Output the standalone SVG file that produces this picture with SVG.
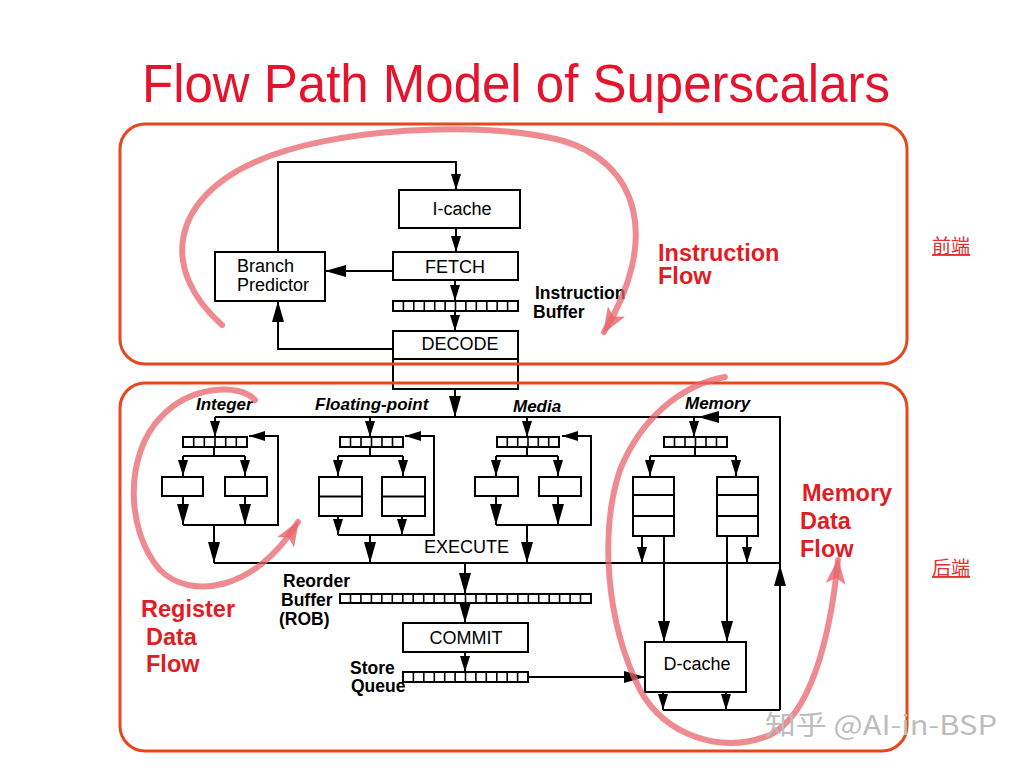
<svg xmlns="http://www.w3.org/2000/svg" width="1024" height="768" viewBox="0 0 1024 768">
<style>
.box{fill:#fff;stroke:#000;stroke-width:2}
.cell{fill:none;stroke:#000;stroke-width:1.6}
.ln{fill:none;stroke:#000;stroke-width:2}
.t{font-family:"Liberation Sans",Arial,sans-serif;font-size:18px;fill:#000}
.tb{font-family:"Liberation Sans",Arial,sans-serif;font-size:17.5px;font-weight:bold;fill:#000}
.ti{font-family:"Liberation Sans",Arial,sans-serif;font-size:17px;font-weight:bold;font-style:italic;fill:#000}
.tr{font-family:"Liberation Sans",Arial,sans-serif;font-size:23.5px;font-weight:bold;fill:#e01c24}
.zone{fill:none;stroke:#e8461e;stroke-width:3}
.arc{fill:none;stroke:#e8646c;stroke-width:6;stroke-opacity:0.75;stroke-linecap:round}
</style>
<defs>
<marker id="am" viewBox="0 0 16 10" refX="16" refY="5" markerWidth="16" markerHeight="10" orient="auto" markerUnits="userSpaceOnUse"><path d="M0,0 L16,5 L0,10 z" fill="#000"/></marker>
<marker id="al" viewBox="0 0 21 12" refX="21" refY="6" markerWidth="21" markerHeight="12" orient="auto" markerUnits="userSpaceOnUse"><path d="M0,0 L21,6 L0,12 z" fill="#000"/></marker>
<marker id="ar" viewBox="0 0 26 20" refX="24" refY="10" markerWidth="26" markerHeight="20" orient="auto" markerUnits="userSpaceOnUse"><path d="M0,0 L26,10 L0,20 L6,10 z" fill="#e8646c" fill-opacity="0.8"/></marker>
</defs>
<rect width="1024" height="768" fill="#fff"/>
<text x="142" y="102" font-family="Liberation Sans, Arial, sans-serif" font-size="54" fill="#e3142c" textLength="748" lengthAdjust="spacingAndGlyphs">Flow Path Model of Superscalars</text>

<g id="connectors">
<path class="ln" d="M278 252 V162 H456 V190" marker-end="url(#am)"/>
<path class="ln" d="M456 228 V252" marker-end="url(#am)"/>
<path class="ln" d="M393 271 H325" marker-end="url(#al)"/>
<path class="ln" d="M455 280 V301" marker-end="url(#am)"/>
<path class="ln" d="M455 301 V331" marker-end="url(#am)"/>
<path class="ln" d="M393 349 H278 V301" marker-end="url(#al)"/>
<path class="ln" d="M455 389 V417" marker-end="url(#al)"/>
<path class="ln" d="M215 417 H780 V710"/>
<path class="ln" d="M718 417 H698" marker-end="url(#al)"/>
<path class="ln" d="M215 417 V437" marker-end="url(#am)"/>
<path class="ln" d="M370 417 V437" marker-end="url(#am)"/>
<path class="ln" d="M527 417 V437" marker-end="url(#am)"/>
<path class="ln" d="M694 417 V437" marker-end="url(#am)"/>
<path class="ln" d="M214 563 H780"/>
<path class="ln" d="M780 590 V565" marker-end="url(#al)"/>
<!-- integer -->
<path class="ln" d="M214 447 V456 M183 456 H245"/>
<path class="ln" d="M183 456 V476" marker-end="url(#am)"/>
<path class="ln" d="M245 456 V476" marker-end="url(#am)"/>
<path class="ln" d="M183 496 V525" marker-end="url(#al)"/>
<path class="ln" d="M245 496 V525" marker-end="url(#al)"/>
<path class="ln" d="M183 525 H278 V436 H249" marker-end="url(#am)"/>
<path class="ln" d="M214 525 V563" marker-end="url(#al)"/>
<!-- fp -->
<path class="ln" d="M370 447 V456 M338 456 H403"/>
<path class="ln" d="M338 456 V476" marker-end="url(#am)"/>
<path class="ln" d="M403 456 V476" marker-end="url(#am)"/>
<path class="ln" d="M338 516 V535" marker-end="url(#am)"/>
<path class="ln" d="M402 516 V535" marker-end="url(#am)"/>
<path class="ln" d="M338 535 H434 V436 H405" marker-end="url(#am)"/>
<path class="ln" d="M370 535 V563" marker-end="url(#al)"/>
<!-- media -->
<path class="ln" d="M527 447 V456 M496 456 H558"/>
<path class="ln" d="M496 456 V476" marker-end="url(#am)"/>
<path class="ln" d="M558 456 V476" marker-end="url(#am)"/>
<path class="ln" d="M496 496 V525" marker-end="url(#al)"/>
<path class="ln" d="M558 496 V525" marker-end="url(#al)"/>
<path class="ln" d="M496 525 H591 V436 H562" marker-end="url(#am)"/>
<path class="ln" d="M527 525 V563" marker-end="url(#al)"/>
<!-- memory -->
<path class="ln" d="M695 447 V456 M650 456 H736"/>
<path class="ln" d="M650 456 V476" marker-end="url(#am)"/>
<path class="ln" d="M736 456 V476" marker-end="url(#am)"/>
<path class="ln" d="M642 536 V563" marker-end="url(#am)"/>
<path class="ln" d="M747 536 V563" marker-end="url(#am)"/>
<path class="ln" d="M664 536 V642" marker-end="url(#al)"/>
<path class="ln" d="M727 536 V642" marker-end="url(#al)"/>
<path class="ln" d="M663 692 V710" marker-end="url(#am)"/>
<path class="ln" d="M726 692 V710" marker-end="url(#am)"/>
<path class="ln" d="M663 710 H780"/>
<!-- retire -->
<path class="ln" d="M465 563 V594" marker-end="url(#al)"/>
<path class="ln" d="M465 603 V623" marker-end="url(#al)"/>
<path class="ln" d="M465 652 V672" marker-end="url(#am)"/>
<path class="ln" d="M528 677 H645" marker-end="url(#al)"/>
</g>

<g id="icache"><rect class="box" x="399" y="190" width="121" height="38"/><text class="t" x="462" y="215" text-anchor="middle">I-cache</text></g>
<g id="fetch"><rect class="box" x="393" y="252" width="125" height="28"/><text class="t" x="455" y="273" text-anchor="middle">FETCH</text></g>
<g id="branch-predictor"><rect class="box" x="215" y="252" width="110" height="49"/><text class="t" x="237" y="272">Branch</text><text class="t" x="237" y="291">Predictor</text></g>
<g id="instruction-buffer"><rect class="box" x="393" y="301" width="125" height="10"/><path class="cell" d="M403.4 301v10M413.8 301v10M424.3 301v10M434.7 301v10M445.1 301v10M455.5 301v10M465.9 301v10M476.3 301v10M486.8 301v10M497.2 301v10M507.6 301v10"/>
<text class="tb" x="535" y="299">Instruction</text><text class="tb" x="533" y="318">Buffer</text></g>
<g id="decode"><rect class="box" x="393" y="331" width="125" height="58"/><path class="ln" d="M393 359 H518"/><text class="t" x="460" y="350" text-anchor="middle">DECODE</text></g>

<g id="integer"><text class="ti" x="196" y="410">Integer</text>
<rect class="box" x="183" y="437" width="64" height="10"/><path class="cell" d="M193.7 437v10M204.3 437v10M215 437v10M225.7 437v10M236.3 437v10"/>
<rect class="box" x="162" y="477" width="41" height="19"/><rect class="box" x="225" y="477" width="42" height="19"/></g>
<g id="floating-point"><text class="ti" x="315" y="410">Floating-point</text>
<rect class="box" x="340" y="437" width="63" height="10"/><path class="cell" d="M350.5 437v10M361 437v10M371.5 437v10M382 437v10M392.5 437v10"/>
<rect class="box" x="319" y="477" width="43" height="39"/><path class="ln" d="M319 496.5 H362"/>
<rect class="box" x="382" y="477" width="43" height="39"/><path class="ln" d="M382 496.5 H425"/></g>
<g id="media"><text class="ti" x="513" y="412">Media</text>
<rect class="box" x="497" y="437" width="62" height="10"/><path class="cell" d="M507.3 437v10M517.7 437v10M528 437v10M538.3 437v10M548.7 437v10"/>
<rect class="box" x="475" y="477" width="43" height="19"/><rect class="box" x="539" y="477" width="42" height="19"/></g>
<g id="memory"><text class="ti" x="685" y="409">Memory</text>
<rect class="box" x="664" y="437" width="63" height="10"/><path class="cell" d="M674.5 437v10M685 437v10M695.5 437v10M706 437v10M716.5 437v10"/>
<rect class="box" x="633" y="477" width="41" height="59"/><path class="ln" d="M633 495 H674 M633 516 H674"/>
<rect class="box" x="717" y="477" width="41" height="59"/><path class="ln" d="M717 495 H758 M717 516 H758"/></g>
<g id="execute"><text class="t" x="424" y="553">EXECUTE</text></g>
<g id="rob"><text class="tb" x="283" y="587">Reorder</text><text class="tb" x="281" y="606">Buffer</text><text class="tb" x="279" y="625">(ROB)</text>
<rect class="box" x="340" y="594" width="251" height="9"/><path class="cell" d="M350.5 594v9M360.9 594v9M371.4 594v9M381.8 594v9M392.3 594v9M402.8 594v9M413.2 594v9M423.7 594v9M434.1 594v9M444.6 594v9M455 594v9M465.5 594v9M476 594v9M486.4 594v9M496.9 594v9M507.3 594v9M517.8 594v9M528.3 594v9M538.7 594v9M549.2 594v9M559.6 594v9M570.1 594v9M580.5 594v9"/></g>
<g id="commit"><rect class="box" x="403" y="623" width="125" height="29"/><text class="t" x="466" y="644" text-anchor="middle">COMMIT</text></g>
<g id="store-queue"><text class="tb" x="350" y="674">Store</text><text class="tb" x="351" y="692">Queue</text>
<rect class="box" x="403" y="672" width="125" height="10"/><path class="cell" d="M413.4 672v10M423.8 672v10M434.3 672v10M444.7 672v10M455.1 672v10M465.5 672v10M475.9 672v10M486.3 672v10M496.8 672v10M507.2 672v10M517.6 672v10"/></g>
<g id="dcache"><rect class="box" x="645" y="642" width="101" height="50"/><text class="t" x="697" y="670" text-anchor="middle">D-cache</text></g>

<g id="frontend-zone"><rect class="zone" x="120" y="124" width="787" height="240" rx="25"/>
<text class="tr" x="658" y="261">Instruction</text><text class="tr" x="658" y="284">Flow</text>
<text x="932" y="253" font-family="Noto Sans CJK SC, sans-serif" font-size="19" fill="#e03030" text-decoration="underline">前端</text></g>
<g id="backend-zone"><rect class="zone" x="120" y="383" width="787" height="368" rx="25"/>
<text class="tr" x="802" y="501">Memory</text><text class="tr" x="800" y="529">Data</text><text class="tr" x="800" y="557">Flow</text>
<text class="tr" x="141" y="617">Register</text><text class="tr" x="146" y="645">Data</text><text class="tr" x="146" y="672">Flow</text>
<text x="932" y="575" font-family="Noto Sans CJK SC, sans-serif" font-size="19" fill="#e03030" text-decoration="underline">后端</text></g>

<g id="flow-arcs">
<path class="arc" d="M222 325 C160 270 170 200 255 162 C330 128 480 120 560 140 C640 162 660 240 604 332" marker-end="url(#ar)"/>
<path class="arc" d="M255 400 C240 383 190 385 160 418 C125 455 125 530 160 570 C190 600 255 592 298 522" marker-end="url(#ar)"/>
<path class="arc" d="M725 377 C680 385 640 420 620 470 C600 530 605 620 640 690 C665 735 720 755 770 735 C810 715 830 640 838 560" marker-end="url(#ar)"/>
</g>
<text x="765" y="735" font-family="Noto Sans CJK SC, Noto Sans, sans-serif" font-size="27" fill="#bdbdbd" textLength="232" lengthAdjust="spacingAndGlyphs">知乎 @AI-in-BSP</text>
</svg>
